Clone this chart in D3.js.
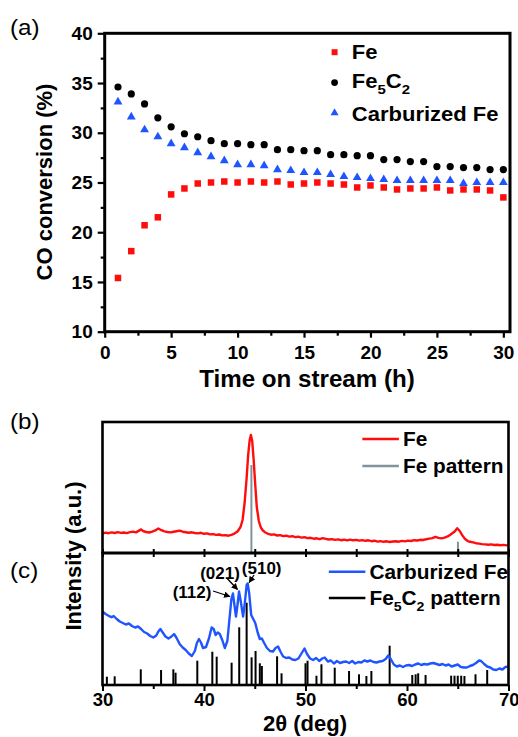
<!DOCTYPE html>
<html><head><meta charset="utf-8">
<script src="https://cdn.jsdelivr.net/npm/d3@7"></script>
<style>body{margin:0;background:#fff}svg{display:block}text{font-family:"Liberation Sans",Arial,sans-serif}</style>
</head><body>
<svg id="c" width="518" height="737"></svg>
<script>
// ---------- Panel (a) data ----------
const hours = d3.range(1, 31);
const convFe = [15.4,18.1,20.7,21.5,23.8,24.4,24.9,25.0,25.1,25.0,25.1,25.0,25.1,24.8,24.9,25.0,24.9,24.8,24.5,24.7,24.5,24.3,24.4,24.4,24.5,24.2,24.3,24.3,24.2,23.5];
const convFe5C2 = [34.6,33.9,32.9,31.5,30.6,29.9,29.6,29.2,28.9,28.9,28.8,28.8,28.3,28.3,28.2,28.2,27.8,27.8,27.7,27.7,27.3,27.3,27.1,27.1,26.6,26.6,26.5,26.5,26.3,26.3];
const convCarb = [33.1,31.6,30.3,29.6,28.9,28.5,28.0,27.6,27.2,26.8,26.8,26.7,26.3,26.2,26.0,26.0,25.8,25.6,25.5,25.4,25.3,25.2,25.2,25.2,25.2,25.2,24.9,25.0,25.0,25.0];
const aXTicks = [0,5,10,15,20,25,30];
const aYTicks = [10,15,20,25,30,35,40];

// ---------- Panel (b): Fe XRD ----------
const xrdFe = [[30.0,19.5],[30.3,20.4],[30.6,19.8],[30.9,20.6],[31.2,20.0],[31.5,20.8],[31.8,20.1],[32.1,20.5],[32.4,19.9],[32.7,20.9],[33.0,21.3],[33.3,20.6],[33.6,22.4],[33.8,23.6],[34.0,22.0],[34.3,21.0],[34.6,20.5],[34.9,21.4],[35.2,22.6],[35.5,24.5],[35.8,22.8],[36.1,21.6],[36.4,21.0],[36.7,20.6],[37.0,21.2],[37.3,21.8],[37.6,22.4],[37.9,21.3],[38.2,20.8],[38.5,20.3],[38.8,20.7],[39.1,20.0],[39.4,19.6],[39.7,20.2],[40.0,19.2],[40.3,19.6],[40.6,18.6],[40.9,18.9],[41.2,18.1],[41.5,18.5],[41.8,17.6],[42.1,17.9],[42.4,17.3],[42.7,18.2],[43.0,19.4],[43.3,21.5],[43.6,26.0],[43.8,33.0],[44.0,50.0],[44.2,75.0],[44.35,98.0],[44.5,113.0],[44.62,118.0],[44.75,112.0],[44.9,92.0],[45.05,68.0],[45.2,46.0],[45.4,32.0],[45.6,25.5],[45.8,22.5],[46.0,20.8],[46.3,19.2],[46.6,18.3],[46.9,18.6],[47.2,17.5],[47.5,17.9],[47.8,16.9],[48.1,17.3],[48.4,16.4],[48.7,16.8],[49.0,15.9],[49.3,16.3],[49.6,15.4],[49.9,15.8],[50.2,14.9],[50.5,15.2],[50.8,14.3],[51.1,14.7],[51.4,13.8],[51.7,14.9],[52.0,14.2],[52.3,13.5],[52.6,13.9],[52.9,13.1],[53.2,13.6],[53.5,12.8],[53.8,13.3],[54.1,12.6],[54.4,13.4],[54.7,12.7],[55.0,13.1],[55.3,12.4],[55.6,12.9],[55.9,12.2],[56.2,12.7],[56.5,11.8],[56.8,12.3],[57.1,11.4],[57.4,11.9],[57.7,11.2],[58.0,11.7],[58.3,11.0],[58.6,11.5],[58.9,11.8],[59.2,11.3],[59.5,12.1],[59.8,11.6],[60.1,12.4],[60.4,12.0],[60.7,12.8],[61.0,12.5],[61.3,13.2],[61.6,13.0],[61.9,13.8],[62.2,14.4],[62.5,14.9],[62.8,16.2],[63.1,15.1],[63.4,14.6],[63.7,15.4],[64.0,16.6],[64.3,18.6],[64.7,21.5],[64.95,24.7],[65.2,22.0],[65.45,17.6],[65.7,14.2],[65.95,12.2],[66.2,11.2],[66.5,10.6],[66.8,9.8],[67.1,9.4],[67.4,8.9],[67.7,8.6],[68.0,8.3],[68.3,8.6],[68.6,8.0],[68.9,8.2],[69.2,7.8],[69.5,8.1],[69.8,7.6],[70.0,7.9]];
const patFe = [[44.67,88],[65.02,11.3]];

// ---------- Panel (c): Carburized Fe XRD ----------
const xrdCarb = [[30.0,73.5],[30.3,71.0],[30.6,69.2],[30.9,67.8],[31.1,69.0],[31.4,66.0],[31.7,63.5],[32.0,62.0],[32.3,60.5],[32.6,61.5],[32.9,59.0],[33.2,57.5],[33.5,58.5],[33.8,56.0],[34.1,53.0],[34.4,51.5],[34.7,49.0],[35.0,47.5],[35.3,49.5],[35.5,53.5],[35.7,56.0],[35.9,53.0],[36.2,48.5],[36.5,46.5],[36.8,48.5],[37.05,51.0],[37.3,47.0],[37.6,41.0],[37.9,37.5],[38.2,35.0],[38.5,31.5],[38.8,29.0],[39.1,34.0],[39.3,42.0],[39.5,46.0],[39.7,42.5],[39.9,37.0],[40.2,38.0],[40.5,47.0],[40.75,57.5],[40.95,56.0],[41.15,50.0],[41.35,52.5],[41.55,51.0],[41.8,45.0],[42.05,37.0],[42.3,44.0],[42.5,65.0],[42.7,86.0],[42.85,91.5],[43.0,80.0],[43.15,68.5],[43.3,80.0],[43.45,93.5],[43.6,85.0],[43.85,68.5],[44.0,80.0],[44.2,100.0],[44.3,101.5],[44.45,92.0],[44.65,70.0],[44.85,66.0],[45.05,62.0],[45.3,52.0],[45.5,46.0],[45.7,46.5],[45.9,42.5],[46.2,37.0],[46.5,34.0],[46.8,33.5],[47.05,37.0],[47.3,38.5],[47.55,33.0],[47.8,28.5],[48.1,27.0],[48.4,27.5],[48.7,25.5],[49.0,25.0],[49.3,26.5],[49.6,31.5],[49.9,36.5],[50.15,31.0],[50.45,26.5],[50.75,25.0],[51.05,27.0],[51.35,24.0],[51.65,26.5],[51.9,27.5],[52.2,23.5],[52.5,24.5],[52.8,21.5],[53.1,24.0],[53.4,22.0],[53.7,23.0],[54.0,23.5],[54.3,22.0],[54.6,24.0],[54.9,21.5],[55.2,23.0],[55.5,22.5],[55.8,24.5],[56.1,23.5],[56.4,24.5],[56.7,23.0],[57.0,22.5],[57.3,23.5],[57.6,24.0],[57.9,26.0],[58.15,29.5],[58.4,26.0],[58.7,20.5],[59.0,18.5],[59.3,19.5],[59.6,18.0],[59.9,19.5],[60.2,20.0],[60.5,19.0],[60.8,20.5],[61.1,21.5],[61.4,20.0],[61.7,21.0],[62.0,20.5],[62.3,21.5],[62.6,22.0],[62.9,21.0],[63.2,20.0],[63.5,21.0],[63.8,19.5],[64.1,20.5],[64.4,18.5],[64.7,19.5],[65.0,20.5],[65.3,18.0],[65.6,17.5],[65.9,17.5],[66.2,19.0],[66.5,20.0],[66.8,22.0],[67.1,24.5],[67.3,24.0],[67.6,21.0],[67.9,18.5],[68.2,17.5],[68.5,15.5],[68.8,15.0],[69.1,16.5],[69.4,15.5],[69.7,18.0],[70.0,18.5]];
const patFe5C2 = [[30.43,8.3],[31.2,8.7],[33.77,15.7],[35.77,15],[36.98,15.7],[37.2,12.3],[39.34,24.3],[40.82,33.3],[41.25,28.3],[42.72,22.3],[43.47,57.7],[44.2,82.3],[44.69,27.7],[45.08,34],[45.5,21.7],[45.7,19],[47.2,28.7],[47.64,11.7],[50.0,21.7],[50.2,24.3],[51.08,9.3],[51.57,20.7],[52.88,17.3],[54.29,14],[55.27,10.7],[56.0,9],[56.49,14],[58.29,39.3],[60.52,10],[60.85,10.7],[61.1,11.7],[61.83,10],[64.35,9.3],[64.68,9.3],[65.0,9.3],[65.34,9.3],[65.66,9],[66.75,10.7],[67.9,15]];
const xrdTicks = [30,40,50,60,70];
const xrdMinor = [35,45,55,65];
const peakLabels = [
  {label:"(112)", tx:38.82, ty:93,  x1:40.89, y1:94,  x2:42.55, y2:88.5},
  {label:"(021)", tx:41.58, ty:112, x1:42.24, y1:107, x2:43.3,  y2:95.5},
  {label:"(510)", tx:45.68, ty:117, x1:44.93, y1:110, x2:44.45, y2:102.5}
];

const RED="#ff0d0d", BLUE="#1f55ff", GREY="#7f949c";
const svg = d3.select("#c");

function label(g, x, y, parts, o={}){
  const t = g.append("text")
    .attr("transform",`translate(${x},${y})${o.rot?` rotate(${o.rot})`:""} scale(${o.sx||1},1)`)
    .attr("font-size",o.size||18).attr("font-weight",o.bold===false?"normal":"bold")
    .attr("text-anchor",o.anchor||"start").attr("fill","#000");
  (Array.isArray(parts)?parts:[[parts]]).forEach(p=>{
    const s=t.append("tspan").text(p[0]);
    if(p[1]==="sub") s.attr("font-size",(o.size||18)*0.68).attr("dy",(o.size||18)*0.28);
    if(p[1]==="up") s.attr("dy",-(o.size||18)*0.28);
  });
  return t;
}

// ================= Panel (a) =================
const xa = d3.scaleLinear().domain([0,30.5]).range([104.7,510]);
const ya = d3.scaleLinear().domain([10,40]).range([331.7,33.3]);
const ga = svg.append("g");

ga.append("g").attr("transform",`translate(0,${ya(10)})`)
  .call(d3.axisBottom(xa).tickValues(aXTicks).tickSize(6).tickPadding(8).tickFormat(d3.format("d")));
ga.append("g").attr("transform",`translate(0,${ya(10)})`)
  .call(d3.axisBottom(xa).tickValues(aXTicks.slice(0,-1).map(d=>d+2.5)).tickSize(4).tickFormat(""));
ga.append("g").attr("transform",`translate(${xa(0)},0)`)
  .call(d3.axisLeft(ya).tickValues(aYTicks).tickSize(7).tickPadding(5).tickFormat(d3.format("d")));
ga.append("g").attr("transform",`translate(${xa(0)},0)`)
  .call(d3.axisLeft(ya).tickValues(aYTicks.slice(0,-1).map(d=>d+2.5)).tickSize(4).tickFormat(""));
ga.selectAll(".domain").remove();
ga.selectAll(".tick line").attr("stroke","#000").attr("stroke-width",2.2);
ga.selectAll(".tick text").attr("font-size",19).attr("font-weight","bold").attr("fill","#000")
  .attr("font-family","Liberation Sans, Arial, sans-serif");
ga.append("rect").attr("x",xa(0)).attr("y",ya(40)).attr("width",xa(30.5)-xa(0)).attr("height",ya(10)-ya(40))
  .attr("fill","none").attr("stroke","#000").attr("stroke-width",3);

const sq=6.5;
ga.selectAll(".fe").data(hours).join("rect")
  .attr("x",(d,i)=>xa(d)-sq/2).attr("y",(d,i)=>ya(convFe[i])-sq/2).attr("width",sq).attr("height",sq).attr("fill",RED);
ga.selectAll(".fc").data(hours).join("circle")
  .attr("cx",d=>xa(d)).attr("cy",(d,i)=>ya(convFe5C2[i])).attr("r",3.6).attr("fill","#000");
const tri = d3.symbol().type(d3.symbolTriangle).size(34);
ga.selectAll(".cb").data(hours).join("path")
  .attr("d",tri).attr("transform",(d,i)=>`translate(${xa(d)},${ya(convCarb[i])})`).attr("fill",BLUE);

// legend (a)
const lx = xa(17.3), ltx = xa(18.6);
ga.append("rect").attr("x",lx-3).attr("y",ya(38.1)-3).attr("width",6).attr("height",6).attr("fill",RED);
ga.append("circle").attr("cx",lx).attr("cy",ya(35.05)).attr("r",3.4).attr("fill","#000");
ga.append("path").attr("d",d3.symbol().type(d3.symbolTriangle).size(28)).attr("transform",`translate(${lx},${ya(32.0)})`).attr("fill",BLUE);
label(ga, ltx, ya(37.42), "Fe", {size:20, sx:1.1});
label(ga, ltx, ya(34.5), [["Fe"],["5","sub"],["C","up"],["2","sub"]], {size:20, sx:1.1});
label(ga, ltx, ya(31.2), "Carburized Fe", {size:20, sx:1.1});

label(svg, 307, 387, "Time on stream (h)", {size:23, anchor:"middle", sx:1.05});
label(svg, 52, 182, "CO conversion (%)", {size:22, anchor:"middle", rot:-90});
label(svg, 10, 35, "(a)", {size:22, bold:false, sx:1.1});

// ================= Panels (b) & (c) =================
const xx = d3.scaleLinear().domain([30,70]).range([102.5,508.5]);
const yb = d3.scaleLinear().domain([0,131]).range([553,422]);
const yc = d3.scaleLinear().domain([0,132]).range([685,553]);
const gb = svg.append("g");

gb.selectAll(".pf").data(patFe).join("line")
  .attr("x1",d=>xx(d[0])).attr("x2",d=>xx(d[0])).attr("y1",yb(0)).attr("y2",d=>yb(d[1]))
  .attr("stroke",GREY).attr("stroke-width",2);
gb.append("path").datum(xrdFe).attr("fill","none").attr("stroke",RED).attr("stroke-width",2.4)
  .attr("stroke-linejoin","round").attr("d",d3.line().x(d=>xx(d[0])).y(d=>yb(d[1])));
gb.selectAll(".pc").data(patFe5C2).join("line")
  .attr("x1",d=>xx(d[0])).attr("x2",d=>xx(d[0])).attr("y1",yc(0)).attr("y2",d=>yc(d[1]))
  .attr("stroke","#000").attr("stroke-width",2);
gb.append("path").datum(xrdCarb).attr("fill","none").attr("stroke",BLUE).attr("stroke-width",2.4)
  .attr("stroke-linejoin","round").attr("d",d3.line().x(d=>xx(d[0])).y(d=>yc(d[1])));

gb.append("g").attr("transform",`translate(0,${yb(0)})`)
  .call(d3.axisTop(xx).tickValues(xrdTicks.concat(xrdMinor)).tickSize(4).tickFormat(""));
gb.append("g").attr("transform",`translate(0,${yb(0)})`)
  .call(d3.axisBottom(xx).tickValues(xrdTicks.concat(xrdMinor)).tickSize(4).tickFormat(""));
const bottomAx = gb.append("g").attr("transform",`translate(0,${yc(0)})`)
  .call(d3.axisBottom(xx).tickValues(xrdTicks).tickSize(6).tickPadding(2).tickFormat(d3.format("d")));
gb.append("g").attr("transform",`translate(0,${yc(0)})`)
  .call(d3.axisBottom(xx).tickValues(xrdMinor).tickSize(4).tickFormat(""));
gb.selectAll(".domain").remove();
gb.selectAll(".tick line").attr("stroke","#000").attr("stroke-width",2);
gb.selectAll(".tick text").attr("font-size",18.5).attr("font-weight","bold").attr("fill","#000")
  .attr("font-family","Liberation Sans, Arial, sans-serif");
bottomAx.selectAll(".tick text").filter(d=>d===70).attr("text-anchor","end").attr("dx","10.5");
gb.append("rect").attr("x",xx(30)).attr("y",yb(131)).attr("width",xx(70)-xx(30)).attr("height",yb(0)-yb(131))
  .attr("fill","none").attr("stroke","#000").attr("stroke-width",2.6);
gb.append("rect").attr("x",xx(30)).attr("y",yc(132)).attr("width",xx(70)-xx(30)).attr("height",yc(0)-yc(132))
  .attr("fill","none").attr("stroke","#000").attr("stroke-width",2.6);

svg.append("defs").append("marker").attr("id","ah").attr("viewBox","0 0 10 10").attr("refX",9).attr("refY",5)
  .attr("markerWidth",5).attr("markerHeight",5).attr("orient","auto")
  .append("path").attr("d","M0,0L10,5L0,10z").attr("fill","#000");
peakLabels.forEach(p=>{
  gb.append("line").attr("x1",xx(p.x1)).attr("y1",yc(p.y1)).attr("x2",xx(p.x2)).attr("y2",yc(p.y2))
    .attr("stroke","#000").attr("stroke-width",1.3).attr("marker-end","url(#ah)");
  label(gb, xx(p.tx), yc(p.ty)+6, p.label, {size:17, anchor:"middle"});
});

const l1=xx(55.6), l2=xx(59.2), lt=xx(59.6);
gb.append("line").attr("x1",l1).attr("x2",l2).attr("y1",yb(114)).attr("y2",yb(114)).attr("stroke",RED).attr("stroke-width",2.6);
label(gb, lt, yb(114)+7, "Fe", {size:20, sx:1.04});
gb.append("line").attr("x1",l1).attr("x2",l2).attr("y1",yb(87)).attr("y2",yb(87)).attr("stroke",GREY).attr("stroke-width",2.6);
label(gb, lt, yb(87)+7, "Fe pattern", {size:20, sx:1.04});
const m1=xx(52.3), m2=xx(55.9), mt=xx(56.3);
gb.append("line").attr("x1",m1).attr("x2",m2).attr("y1",yc(113.3)).attr("y2",yc(113.3)).attr("stroke",BLUE).attr("stroke-width",2.6);
label(gb, mt, yc(113.3)+7, "Carburized Fe", {size:20, sx:1.04});
gb.append("line").attr("x1",m1).attr("x2",m2).attr("y1",yc(87)).attr("y2",yc(87)).attr("stroke","#000").attr("stroke-width",2.6);
label(gb, mt, yc(87)+7, [["Fe"],["5","sub"],["C","up"],["2","sub"],[" pattern","up"]], {size:20, sx:1.04});

label(svg, 305, 731, "2θ (deg)", {size:22, anchor:"middle"});
label(svg, 81, 556, "Intensity (a.u.)", {size:22, anchor:"middle", rot:-90});
label(svg, 10, 429, "(b)", {size:22, bold:false, sx:1.1});
label(svg, 10, 578, "(c)", {size:22, bold:false, sx:1.1});
</script>
</body></html>
